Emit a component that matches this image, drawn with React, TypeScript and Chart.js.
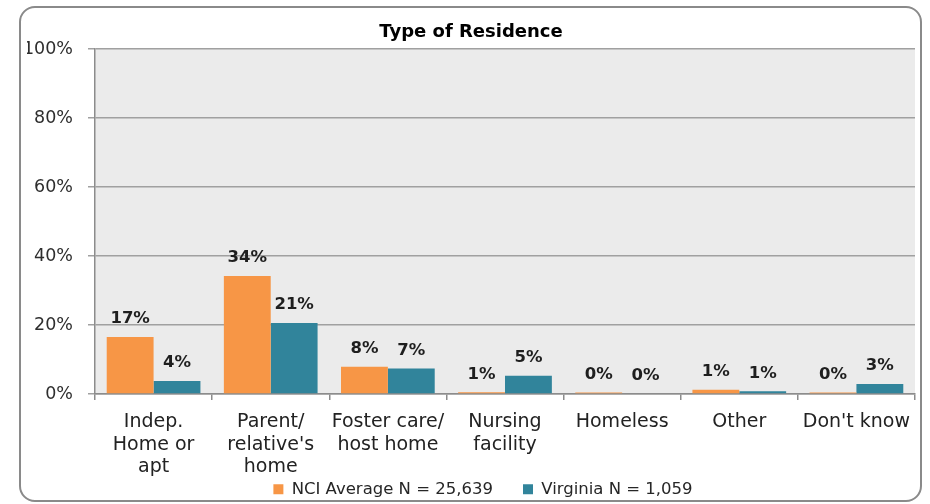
import React, { useEffect, useRef } from "react";
import { Chart, registerables } from "chart.js";

Chart.register(...registerables);

const categories: (string | string[])[] = [
  ["Indep.", "Home or", "apt"],
  ["Parent/", "relative's", "home"],
  ["Foster care/", "host home"],
  ["Nursing", "facility"],
  "Homeless",
  "Other",
  "Don't know",
];
const nciValues = [16.5, 34.2, 7.9, 0.5, 0.45, 1.2, 0.45];
const virginiaValues = [3.8, 20.6, 7.4, 5.3, 0, 0.8, 2.9];
const seriesNames = ["NCI Average N = 25,639", "Virginia N = 1,059"];
const seriesColors = ["#F79646", "#31849B"];
const chartTitle = "Type of Residence";
const yMin = 0;
const yMax = 100;
const yStep = 20;

const FONT = "'DejaVu Sans', sans-serif";

const plotBackground = {
  id: "plotBackground",
  beforeDraw(chart: any) {
    const { ctx, chartArea } = chart;
    ctx.save();
    ctx.fillStyle = "#EBEBEB";
    ctx.fillRect(chartArea.left, chartArea.top, chartArea.right - chartArea.left, chartArea.bottom - chartArea.top);
    ctx.restore();
  },
};

// place the legend below the (tall) category-label area
const legendPlace = {
  id: "legendPlace",
  afterLayout(chart: any) {
    const lg = chart.legend;
    if (lg) {
      lg.left += 12;
      lg.right += 12;
      lg.top = chart.height - 53;
      lg.bottom = chart.height;
      lg.height = lg.bottom - lg.top;
    }
  },
};

const dataLabels = {
  id: "dataLabels",
  afterDatasetsDraw(chart: any) {
    const { ctx } = chart;
    ctx.save();
    ctx.font = `bold 16.5px ${FONT}`;
    ctx.fillStyle = "#1E1E1E";
    ctx.textAlign = "center";
    ctx.textBaseline = "middle";
    chart.data.datasets.forEach((ds: any, di: number) => {
      const meta = chart.getDatasetMeta(di);
      meta.data.forEach((el: any, i: number) => {
        const v = ds.data[i] as number;
        ctx.fillText(`${Math.round(v)}%`, el.x, el.y - 18);
      });
    });
    ctx.restore();
  },
};

export default function App() {
  const canvasRef = useRef<HTMLCanvasElement | null>(null);

  useEffect(() => {
    if (!canvasRef.current) return;
    const chart = new Chart(canvasRef.current, {
      type: "bar",
      data: {
        labels: categories,
        datasets: [
          {
            label: seriesNames[0],
            data: nciValues,
            backgroundColor: seriesColors[0],
            categoryPercentage: 0.8,
            barPercentage: 1.0,
          },
          {
            label: seriesNames[1],
            data: virginiaValues,
            backgroundColor: seriesColors[1],
            categoryPercentage: 0.8,
            barPercentage: 1.0,
          },
        ],
      },
      options: {
        responsive: false,
        animation: false,
        layout: { padding: { left: 27, right: 15, top: 0, bottom: 0 } },
        plugins: {
          title: {
            display: true,
            text: chartTitle,
            color: "#000000",
            font: { family: FONT, size: 18, weight: "bold" },
            padding: { top: 21.5, bottom: 5.9 },
          },
          legend: {
            position: "bottom",
            maxHeight: 10,
            labels: {
              boxWidth: 10,
              boxHeight: 10,
              padding: 30,
              color: "#262626",
              font: { family: FONT, size: 16.5 },
            },
          },
          tooltip: { enabled: false },
        },
        scales: {
          x: {
            grid: {
              display: true,
              drawOnChartArea: false,
              drawTicks: true,
              tickLength: 6,
              color: "#8C8C8C",
              lineWidth: 1.5,
              offset: true,
            },
            border: { display: true, color: "#8C8C8C", width: 1.5 },
            ticks: {
              color: "#222222",
              font: { family: FONT, size: 19, lineHeight: 1.18 },
              maxRotation: 0,
              minRotation: 0,
              autoSkip: false,
              padding: 11,
            },
            afterFit: (s: any) => {
              s.height = 100;
            },
          },
          y: {
            min: yMin,
            max: yMax,
            grid: {
              color: "#A0A0A0",
              lineWidth: 1.5,
              tickLength: 7,
              drawTicks: true,
            },
            border: { display: true, color: "#8C8C8C", width: 1.5 },
            ticks: {
              stepSize: yStep,
              color: "#2E2E2E",
              font: { family: FONT, size: 17.5 },
              padding: 15,
              callback: (v: any) => `${v}%`,
            },
            afterFit: (s: any) => {
              s.width = 68;
            },
          },
        },
      },
      plugins: [plotBackground, dataLabels, legendPlace],
    });
    return () => chart.destroy();
  }, []);

  return (
    <div style={{ position: "absolute", left: 0, top: 0, width: 930, height: 504, background: "#fff" }}>
      <canvas ref={canvasRef} width={930} height={504} style={{ display: "block", width: 930, height: 504 }} />
      <div
        style={{
          position: "absolute",
          left: 19,
          top: 6,
          width: 903,
          height: 496,
          boxSizing: "border-box",
          border: "2px solid #8A8A8A",
          borderRadius: 16,
          pointerEvents: "none",
        }}
      />
    </div>
  );
}
